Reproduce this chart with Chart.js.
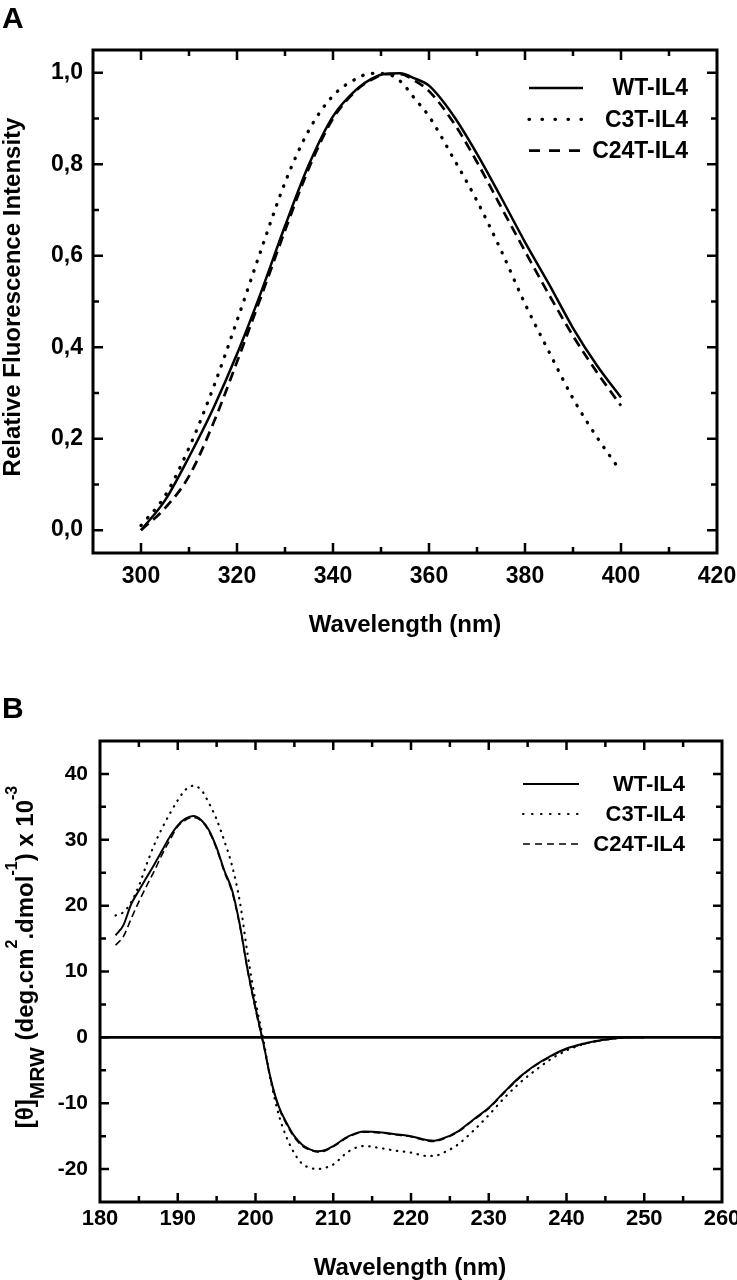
<!DOCTYPE html>
<html>
<head>
<meta charset="utf-8">
<script src="https://cdn.jsdelivr.net/npm/chart.js@4.4.1/dist/chart.umd.min.js"></script>
<style>
  html, body { margin: 0; padding: 0; background: #fff; }
  body { width: 737px; height: 1280px; position: relative; overflow: hidden; }
  canvas { position: absolute; left: 0; }
  #ca { top: 0; }
  #cb { top: 640px; }
</style>
</head>
<body>
<canvas id="ca" width="737" height="640"></canvas>
<canvas id="cb" width="737" height="640"></canvas>
<script>
// ---------------- Panel A: fluorescence emission (data) ----------------
const waveA = [300, 305, 310, 315, 320, 325, 330, 335, 340, 345, 348, 351, 354, 357, 360, 365, 370, 375, 380, 385, 390, 395, 400];
const wtA   = [0.000, 0.065, 0.160, 0.265, 0.385, 0.520, 0.665, 0.800, 0.905, 0.965, 0.987, 0.998, 0.999, 0.988, 0.972, 0.908, 0.823, 0.728, 0.630, 0.538, 0.442, 0.360, 0.290];
const c3tA  = [0.010, 0.075, 0.180, 0.310, 0.458, 0.612, 0.760, 0.875, 0.950, 0.988, 0.999, 0.998, 0.982, 0.944, 0.905, 0.815, 0.720, 0.612, 0.495, 0.390, 0.288, 0.203, 0.128];
const c24tA = [0.000, 0.048, 0.118, 0.232, 0.368, 0.510, 0.655, 0.792, 0.900, 0.963, 0.985, 0.997, 0.997, 0.983, 0.960, 0.893, 0.805, 0.707, 0.610, 0.515, 0.425, 0.345, 0.272];
const xTicksA = [300, 320, 340, 360, 380, 400, 420];
const yTicksA = [0.0, 0.2, 0.4, 0.6, 0.8, 1.0];

// ---------------- Panel B: far-UV CD spectra (data) ----------------
const waveB = [182, 183, 184, 185, 186, 187, 188, 189, 190, 191, 192, 193, 194, 195, 196, 197, 198, 199, 200, 201, 202, 203, 204, 205, 206, 207, 208, 209, 210,
               212, 214, 216, 218, 220, 222, 223, 224, 226, 228, 230, 232, 234, 236, 238, 240, 242, 244, 246, 248, 250];
const wtB   = [15.5, 17.0, 20.2, 22.3, 24.3, 26.3, 28.4, 30.5, 32.2, 33.2, 33.6, 33.0, 31.5, 28.8, 25.3, 22.3, 17.0, 10.2, 4.5, -0.8, -6.5, -10.5, -13.0, -15.0, -16.3, -17.0, -17.3, -17.1, -16.5,
               -15.0, -14.3, -14.4, -14.7, -15.0, -15.6, -15.7, -15.4, -14.3, -12.5, -10.7, -8.3, -6.0, -4.2, -2.8, -1.7, -1.0, -0.5, -0.2, 0.0, 0.0];
const c3tB  = [18.5, 19.0, 20.5, 23.0, 26.3, 29.3, 31.8, 34.0, 36.0, 37.6, 38.2, 37.6, 35.6, 33.1, 29.8, 26.0, 20.5, 12.5, 5.5, -0.3, -6.8, -11.8, -15.2, -17.6, -19.2, -19.8, -20.0, -19.8, -19.3,
               -17.3, -16.5, -16.8, -17.2, -17.5, -18.0, -18.0, -17.6, -16.3, -14.2, -11.8, -9.2, -6.9, -5.0, -3.3, -2.0, -1.1, -0.5, -0.2, 0.0, 0.0];
const c24tB = [14.0, 15.3, 18.0, 20.6, 23.0, 25.3, 27.8, 30.0, 32.0, 33.0, 33.4, 32.9, 31.3, 28.6, 25.1, 22.0, 16.8, 10.0, 4.2, -1.0, -6.6, -10.7, -13.2, -15.2, -16.5, -17.1, -17.4, -17.2, -16.6,
               -15.1, -14.4, -14.5, -14.8, -15.1, -15.7, -15.8, -15.5, -14.4, -12.6, -10.8, -8.4, -6.1, -4.3, -2.9, -1.8, -1.1, -0.6, -0.2, 0.0, 0.0];
const xTicksB = [180, 190, 200, 210, 220, 230, 240, 250, 260];
const yTicksB = [-20, -10, 0, 10, 20, 30, 40];

const seriesNames = ['WT-IL4', 'C3T-IL4', 'C24T-IL4'];

// ---------------- styling / helpers ----------------
const FONT = "'Liberation Sans', Arial, Helvetica, sans-serif";
const pts = (xs, ys) => xs.map((x, i) => ({ x: x, y: ys[i] }));
const setTicks = (vals) => (s) => { s.ticks = vals.map(v => ({ value: v })); };

function drawRuns(ctx, runs, cx, cy, rot, align) {
  ctx.save();
  ctx.translate(cx, cy);
  ctx.rotate(rot);
  ctx.fillStyle = '#000';
  ctx.textAlign = 'left';
  ctx.textBaseline = 'alphabetic';
  const widths = runs.map(r => { ctx.font = 'bold ' + r.size + 'px ' + FONT; return ctx.measureText(r.t).width; });
  const total = widths.reduce((a, b) => a + b, 0);
  let x = align === 'center' ? -total / 2 : (align === 'right' ? -total : 0);
  runs.forEach((r, i) => {
    ctx.font = 'bold ' + r.size + 'px ' + FONT;
    ctx.fillText(r.t, x, r.dy || 0);
    x += widths[i];
  });
  ctx.restore();
}

function makeDecor(cfg) {
  return {
    id: 'decor',
    afterDatasetsDraw(chart) {
      const ctx = chart.ctx;
      const a = chart.chartArea;
      const xs = chart.scales.x, ys = chart.scales.y;
      ctx.save();
      ctx.strokeStyle = '#000';
      ctx.setLineDash([]);
      ctx.lineCap = 'butt';
      // zero reference line
      if (cfg.zeroLine) {
        const yp = ys.getPixelForValue(0);
        ctx.lineWidth = cfg.zeroLine;
        ctx.beginPath(); ctx.moveTo(a.left, yp); ctx.lineTo(a.right, yp); ctx.stroke();
      }
      // inward tick marks on all four sides (major at labelled ticks, minor halfway)
      ctx.lineWidth = cfg.tickWidth;
      const tickSet = (s) => {
        const vals = s.ticks.map(t => t.value);
        const step = vals[1] - vals[0];
        const eps = step * 1e-3;
        const out = [];
        vals.forEach(v => { if (v > s.min + eps && v < s.max - eps) out.push([v, cfg.major]); });
        for (let v = vals[0] - step / 2; v < s.max; v += step) {
          if (v > s.min + eps && v < s.max - eps) out.push([v, cfg.minor]);
        }
        return out;
      };
      tickSet(xs).forEach(([v, len]) => {
        const p = xs.getPixelForValue(v);
        ctx.beginPath();
        ctx.moveTo(p, a.bottom); ctx.lineTo(p, a.bottom - len);
        ctx.moveTo(p, a.top); ctx.lineTo(p, a.top + len);
        ctx.stroke();
      });
      tickSet(ys).forEach(([v, len]) => {
        const p = ys.getPixelForValue(v);
        ctx.beginPath();
        ctx.moveTo(a.left, p); ctx.lineTo(a.left + len, p);
        ctx.moveTo(a.right, p); ctx.lineTo(a.right - len, p);
        ctx.stroke();
      });
      // frame
      ctx.lineWidth = cfg.frame;
      ctx.strokeRect(a.left, a.top, a.right - a.left, a.bottom - a.top);
      // legend
      const L = cfg.legend;
      chart.data.datasets.forEach((ds, i) => {
        const y = L.y0 + i * L.dy;
        ctx.save();
        ctx.strokeStyle = ds.borderColor;
        ctx.lineWidth = ds.borderWidth;
        ctx.lineCap = ds.borderCapStyle || 'butt';
        ctx.setLineDash(L.dash[i]);
        ctx.beginPath(); ctx.moveTo(L.x1, y); ctx.lineTo(L.x2, y); ctx.stroke();
        ctx.restore();
        ctx.fillStyle = '#000';
        ctx.font = 'bold ' + L.size + 'px ' + FONT;
        ctx.textAlign = 'right';
        ctx.textBaseline = 'middle';
        ctx.fillText(ds.label, L.textRight, y + 1);
      });
      // titles and panel letter
      cfg.texts.forEach(t => drawRuns(ctx, t.runs, t.x, t.y, t.rot || 0, t.align || 'center'));
      ctx.restore();
    }
  };
}

function fixBox(width, height) {
  return (s) => {
    if (width != null) s.width = width;
    if (height != null) s.height = height;
    s.paddingLeft = 0; s.paddingRight = 0; s.paddingTop = 0; s.paddingBottom = 0;
  };
}

// ---------------- Chart A ----------------
new Chart(document.getElementById('ca'), {
  type: 'line',
  data: {
    datasets: [
      { label: seriesNames[0], data: pts(waveA, wtA), borderColor: '#000', borderWidth: 2.5, borderDash: [], pointRadius: 0, cubicInterpolationMode: 'monotone' },
      { label: seriesNames[1], data: pts(waveA, c3tA), borderColor: '#000', borderWidth: 3.3, borderDash: [0.5, 9.5], borderCapStyle: 'round', pointRadius: 0, cubicInterpolationMode: 'monotone' },
      { label: seriesNames[2], data: pts(waveA, c24tA), borderColor: '#000', borderWidth: 2.7, borderDash: [10, 6], pointRadius: 0, cubicInterpolationMode: 'monotone' }
    ]
  },
  options: {
    responsive: false,
    animation: false,
    layout: { padding: { top: 50, right: 20, left: 0, bottom: 0 } },
    plugins: { legend: { display: false }, tooltip: { enabled: false } },
    scales: {
      x: {
        type: 'linear', min: 290, max: 420,
        grid: { display: false, drawTicks: false }, border: { display: false },
        ticks: { padding: 10, color: '#000', maxRotation: 0, autoSkip: false,
                 font: { family: FONT, size: 23, weight: 'bold' } },
        afterBuildTicks: setTicks(xTicksA),
        afterFit: fixBox(null, 87)
      },
      y: {
        type: 'linear', min: -0.05, max: 1.05,
        grid: { display: false, drawTicks: false }, border: { display: false },
        ticks: { padding: 10, color: '#000', autoSkip: false,
                 font: { family: FONT, size: 23, weight: 'bold' },
                 callback: (v) => Number(v).toFixed(1).replace('.', ',') },
        afterBuildTicks: setTicks(yTicksA),
        afterFit: fixBox(93, null)
      }
    }
  },
  plugins: [makeDecor({
    frame: 3, tickWidth: 2.5, major: 10, minor: 6, zeroLine: 0,
    legend: { x1: 529, x2: 583, textRight: 688, y0: 88, dy: 31.3, size: 23, dash: [[], [0.5, 12.5], [11, 9]] },
    texts: [
      { runs: [{ t: 'A', size: 30 }], x: 2, y: 28, align: 'left' },
      { runs: [{ t: 'Wavelength (nm)', size: 24 }], x: 405, y: 632 },
      { runs: [{ t: 'Relative Fluorescence Intensity', size: 24 }], x: 20, y: 297, rot: -Math.PI / 2 }
    ]
  })]
});

// ---------------- Chart B ----------------
new Chart(document.getElementById('cb'), {
  type: 'line',
  data: {
    datasets: [
      { label: seriesNames[0], data: pts(waveB, wtB), borderColor: '#000', borderWidth: 2.0, borderDash: [], pointRadius: 0, cubicInterpolationMode: 'monotone' },
      { label: seriesNames[1], data: pts(waveB, c3tB), borderColor: '#000', borderWidth: 2.2, borderDash: [0.5, 6.5], borderCapStyle: 'round', pointRadius: 0, cubicInterpolationMode: 'monotone' },
      { label: seriesNames[2], data: pts(waveB, c24tB), borderColor: '#000', borderWidth: 1.6, borderDash: [7, 4], pointRadius: 0, cubicInterpolationMode: 'monotone' }
    ]
  },
  options: {
    responsive: false,
    animation: false,
    layout: { padding: { top: 101, right: 15, left: 0, bottom: 0 } },
    plugins: { legend: { display: false }, tooltip: { enabled: false } },
    scales: {
      x: {
        type: 'linear', min: 180, max: 260,
        grid: { display: false, drawTicks: false }, border: { display: false },
        ticks: { padding: 4, color: '#000', maxRotation: 0, autoSkip: false,
                 font: { family: FONT, size: 22, weight: 'bold' } },
        afterBuildTicks: setTicks(xTicksB),
        afterFit: fixBox(null, 78)
      },
      y: {
        type: 'linear', min: -25, max: 45,
        grid: { display: false, drawTicks: false }, border: { display: false },
        ticks: { padding: 12, color: '#000', autoSkip: false,
                 font: { family: FONT, size: 21, weight: 'bold' } },
        afterBuildTicks: setTicks(yTicksB),
        afterFit: fixBox(100, null)
      }
    }
  },
  plugins: [makeDecor({
    frame: 3, tickWidth: 2.5, major: 9, minor: 6, zeroLine: 2.6,
    legend: { x1: 523, x2: 579, textRight: 685, y0: 144, dy: 30, size: 22, dash: [[], [0.5, 8.5], [7, 5]] },
    texts: [
      { runs: [{ t: 'B', size: 30 }], x: 2, y: 78, align: 'left' },
      { runs: [{ t: 'Wavelength (nm)', size: 24 }], x: 410, y: 635 },
      { runs: [
          { t: '[θ]', size: 24 },
          { t: 'MRW', size: 21, dy: 11 },
          { t: ' (deg.cm', size: 24 },
          { t: '2', size: 16, dy: -16 },
          { t: '.dmol', size: 24 },
          { t: '-1', size: 16, dy: -16 },
          { t: ') x 10', size: 24 },
          { t: '-3', size: 16, dy: -16 }
        ], x: 33, y: 317, rot: -Math.PI / 2 }
    ]
  })]
});
</script>
</body>
</html>
